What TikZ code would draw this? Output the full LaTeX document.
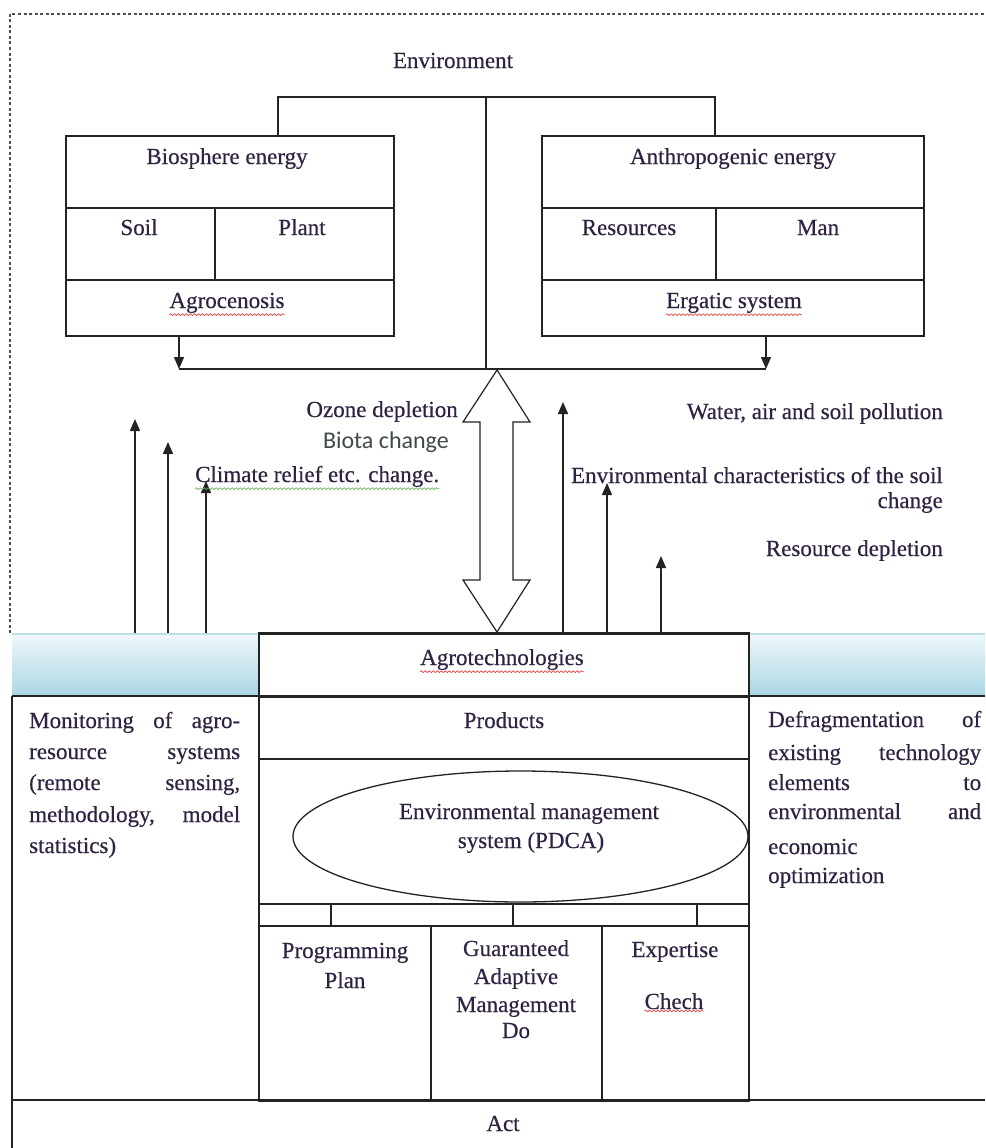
\documentclass[tikz,border=0pt]{standalone}
\usepackage{fontspec}
\setmainfont{Liberation Serif}[FakeBold=0.4]
\newfontfamily\calib{Carlito}
\usetikzlibrary{arrows.meta,shapes.geometric,decorations.pathmorphing,calc}
\definecolor{txtc}{RGB}{48,34,66}
\definecolor{linec}{RGB}{35,35,35}
\definecolor{bandtop}{RGB}{240,248,251}
\definecolor{bandbot}{RGB}{170,215,228}
\definecolor{bandln}{RGB}{190,222,232}
\definecolor{biotac}{RGB}{65,74,68}
\definecolor{sqred}{RGB}{225,70,70}
\definecolor{sqgreen}{RGB}{100,175,90}
\definecolor{dashc}{RGB}{80,80,80}
\begin{document}
\begin{tikzpicture}[x=1pt,y=-1pt,
  ln/.style={draw=linec,line width=1.5pt},
  heavy/.style={draw=linec,line width=2.8pt},
  cell/.style={ln,rectangle,inner sep=0pt,anchor=north west},
  lab/.style={text=txtc,inner sep=0pt,font=\fontsize{23}{30}\selectfont},
  arr/.style={ln,-{Triangle[length=12pt,width=10pt]}},
  squig/.style={draw=#1,line width=0.7pt,decorate,decoration={snake,amplitude=0.9pt,segment length=4pt}},
  dashb/.style={draw=dashc,line width=1.2pt,dash pattern=on 3pt off 2.5pt}
]
\useasboundingbox (0,0) rectangle (985,1148);
\fill[white] (0,0) rectangle (985,1148);

% dashed outer border
\draw[dashb] (10,633) -- (10,14) -- (985,14);

% Environment
\node[lab,anchor=base] (env) at (453,68) {Environment};

% left box
\node[cell,minimum width=328pt,minimum height=72pt] (bioE) at (65,135) {};
\node[cell,minimum width=149pt,minimum height=72pt] (soilC) at (65,207) {};
\node[cell,minimum width=179pt,minimum height=72pt] (plantC) at (214,207) {};
\node[cell,minimum width=328pt,minimum height=56pt] (agroC) at (65,279) {};
\node[lab,anchor=base] (bioT) at (227,164) {Biosphere energy};
\node[lab,anchor=base] (soilT) at (139,235) {Soil};
\node[lab,anchor=base] (plantT) at (302,235) {Plant};
\node[lab,anchor=base] (agroT) at (227,308) {Agrocenosis};

% right box
\node[cell,minimum width=382pt,minimum height=72pt] (anthE) at (541,135) {};
\node[cell,minimum width=174pt,minimum height=72pt] (resC) at (541,207) {};
\node[cell,minimum width=208pt,minimum height=72pt] (manC) at (715,207) {};
\node[cell,minimum width=382pt,minimum height=56pt] (ergC) at (541,279) {};
\node[lab,anchor=base] (anthT) at (733,164) {Anthropogenic energy};
\node[lab,anchor=base] (resT) at (629,235) {Resources};
\node[lab,anchor=base] (manT) at (818,235) {Man};
\node[lab,anchor=base] (ergT) at (734,308) {Ergatic system};

\draw[squig=sqred] ($(agroT.south west)+(0,1.5)$) -- ($(agroT.south east)+(0,1.5)$);
\draw[squig=sqred] ($(ergT.south west)+(0,1.5)$) -- ($(ergT.south east)+(0,1.5)$);

% environment connector
\coordinate (envL) at (278,97);
\coordinate (envR) at (715,97);
\coordinate (envC) at (486,97);
\draw[ln] (envL |- bioE.north) -- (envL) -- (envR) -- (envR |- anthE.north);
\coordinate (busL) at (179,369);
\coordinate (busR) at (766,369);
\coordinate (busC) at (486,369);
\draw[ln] (envC) -- (busC);
\draw[ln] (busL) -- (busR);
\draw[arr] (busL |- agroC.south) -- (busL);
\draw[arr] (busR |- ergC.south) -- (busR);

% band
\shade[top color=bandtop,bottom color=bandbot] (12,633) rectangle (258,695);
\shade[top color=bandtop,bottom color=bandbot] (748,633) rectangle (985,695);
\draw[bandln,line width=1.5pt] (12,634) -- (258,634);
\draw[bandln,line width=1.5pt] (748,634) -- (985,634);

% agrotechnologies box
\node[cell,minimum width=490pt,minimum height=62pt,fill=white] (agt) at (258,633) {};
\draw[heavy] (agt.north west) -- (agt.north east);
\node[lab,anchor=base] (agtT) at (502,665) {Agrotechnologies};
\draw[squig=sqred] ($(agtT.south west)+(0,1.5)$) -- ($(agtT.south east)+(0,1.5)$);

% big double arrow
\coordinate (dTop) at (497,370);
\coordinate (dBot) at (497,632);
\draw[draw=linec,line width=1.2pt,fill=white,line join=miter]
  (dTop) -- ++(33,52) -- ++(-17,0) -- ++(0,158) -- ++(17,0) -- (dBot)
  -- ++(-34,-52) -- ++(17,0) -- ++(0,-158) -- ++(-17,0) -- cycle;

% up arrows (left)
\coordinate (ua1) at (135,633); \coordinate (ta1) at (135,419);
\coordinate (ua2) at (168,633); \coordinate (ta2) at (168,442);
\coordinate (ua3) at (206,633); \coordinate (ta3) at (206,481);
\draw[arr] (ua1) -- (ta1);
\draw[arr] (ua2) -- (ta2);
\draw[arr] (ua3) -- (ta3);
% up arrows (right)
\coordinate (ub1) at (563,633); \coordinate (tb1) at (563,402);
\coordinate (ub2) at (607,633); \coordinate (tb2) at (607,483);
\coordinate (ub3) at (661,633); \coordinate (tb3) at (661,556);
\draw[arr] (ub1) -- (tb1);
\draw[arr] (ub2) -- (tb2);
\draw[arr] (ub3) -- (tb3);

% effect labels
\node[lab,anchor=base east] (ozT) at (458,417) {Ozone depletion};
\node[text=biotac,inner sep=0pt,anchor=base east,font=\calib\fontsize{24}{28}\selectfont] (biT) at (449,448) {Biota change};
\node[lab,anchor=base west] (clT) at (195,482) {Climate relief etc. change.};
\draw[squig=sqgreen] ($(clT.south west)+(0,1.5)$) -- ($(clT.south east)+(0,1.5)$);
\node[lab,anchor=base east] (waT) at (943,419) {Water, air and soil pollution};
\node[lab,anchor=base east] (ecT) at (943,483) {Environmental characteristics of the soil};
\node[lab,anchor=base east] (ecT2) at (943,508) {change};
\node[lab,anchor=base east] (rdT) at (943,556) {Resource depletion};

% lower grid
\draw[heavy] (12,696) -- (985,696);
\draw[ln] (12,696) -- (12,1148);
\node[cell,minimum width=490pt,minimum height=62pt] (prod) at (258,696) {};
\node[cell,minimum width=490pt,minimum height=145pt] (emsC) at (258,758) {};
\node[cell,minimum width=490pt,minimum height=22pt] (strip) at (258,903) {};
\node[cell,minimum width=172pt,minimum height=175pt] (planC) at (258,925) {};
\node[cell,minimum width=171pt,minimum height=175pt] (doC) at (430,925) {};
\node[cell,minimum width=147pt,minimum height=175pt] (chkC) at (601,925) {};
\draw[ln] (331,903) -- (331,925);
\draw[ln] (513,903) -- (513,925);
\draw[ln] (697,903) -- (697,925);
\draw[ln] (12,1100) -- (985,1100);
\node[ellipse,draw=linec,line width=1.3pt,minimum width=455pt,minimum height=131pt,inner sep=0pt] (ems) at (520.5,836.5) {};

\node[lab,anchor=base] (prodT) at (504,728) {Products};
\node[lab,anchor=base] (emsT1) at (529,819) {Environmental management};
\node[lab,anchor=base] (emsT2) at (531,848) {system (PDCA)};
\node[lab,anchor=base] (plT1) at (345,958) {Programming};
\node[lab,anchor=base] (plT2) at (345,988) {Plan};
\node[lab,anchor=base] (doT1) at (516,956) {Guaranteed};
\node[lab,anchor=base] (doT2) at (516,984) {Adaptive};
\node[lab,anchor=base] (doT3) at (516,1012) {Management};
\node[lab,anchor=base] (doT4) at (516,1038) {Do};
\node[lab,anchor=base] (chT1) at (675,957) {Expertise};
\node[lab,anchor=base] (chT2) at (674,1009) {Chech};
\draw[squig=sqred] ($(chT2.south west)+(0,1.5)$) -- ($(chT2.south east)+(0,1.5)$);
\node[lab,anchor=base] (actT) at (503,1131) {Act};

% left paragraph
\node[lab,anchor=base west] (m1) at (29,728) {\makebox[211pt][s]{Monitoring of agro-}};
\node[lab,anchor=base west] (m2) at (29,759) {\makebox[211pt][s]{resource systems}};
\node[lab,anchor=base west] (m3) at (29,790) {\makebox[211pt][s]{(remote sensing,}};
\node[lab,anchor=base west] (m4) at (29,822) {\makebox[211pt][s]{methodology, model}};
\node[lab,anchor=base west] (m5) at (29,853) {statistics)};

% right paragraph
\node[lab,anchor=base west] (d1) at (768,727) {\makebox[213pt][s]{Defragmentation of}};
\node[lab,anchor=base west] (d2) at (768,760) {\makebox[213pt][s]{existing technology}};
\node[lab,anchor=base west] (d3) at (768,790) {\makebox[213pt][s]{elements to}};
\node[lab,anchor=base west] (d4) at (768,819) {\makebox[213pt][s]{environmental and}};
\node[lab,anchor=base west] (d5) at (768,854) {economic};
\node[lab,anchor=base west] (d6) at (768,883) {optimization};
\end{tikzpicture}
\end{document}
